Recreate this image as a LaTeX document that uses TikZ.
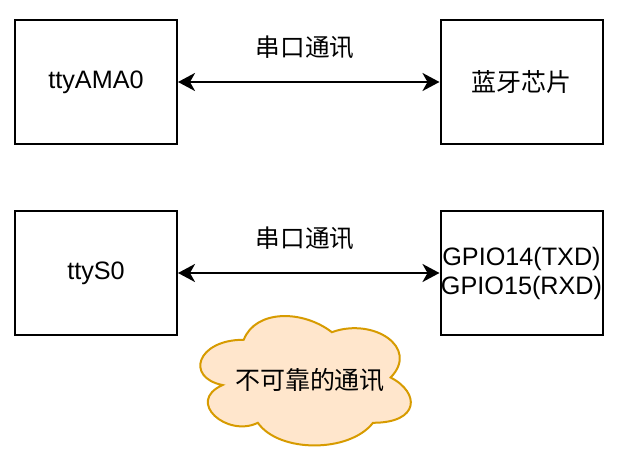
\documentclass[tikz,border=0pt]{standalone}
\usepackage{fontspec}
\setmainfont{Liberation Sans}
\newfontfamily\cjk{Noto Sans CJK SC}
\usepackage{tikz}
\usetikzlibrary{arrows.meta,positioning}
\definecolor{cloudfill}{HTML}{FFE6CC}
\definecolor{cloudline}{HTML}{D79B00}

\begin{document}
\begin{tikzpicture}[
  x=0.5pt, y=-0.5pt,
  box/.style={draw, line width=1pt, minimum width=81pt, minimum height=62pt, inner sep=0pt, align=center, font=\fontsize{12.6}{14.5}\selectfont},
  lbl/.style={font=\cjk\fontsize{12.3}{14}\selectfont, inner sep=1pt},
  link/.style={{Stealth[length=8.5pt,width=9pt,inset=2.5pt]}-{Stealth[length=8.5pt,width=9pt,inset=2.5pt]}, line width=1.2pt},
  puff/.style={draw=cloudline, fill=cloudfill, line width=1pt},
  note/.style={font=\cjk\fontsize{12.5}{14}\selectfont, inner sep=1pt}
]
  \useasboundingbox (0,0) rectangle (623,465);

  % Bluetooth link
  \node[box] (ama) at (96,82) {ttyAMA0};
  \node[box, font=\cjk\fontsize{12.5}{14}\selectfont] (bt) at (521.5,82) {蓝牙芯片};
  \node[lbl] (uart1) at (305,47) {串口通讯};
  \draw[link] (ama) -- (bt);

  % Mini UART link
  \node[box] (tys) at (96,273) {ttyS0};
  \node[box] (gpio) at (521.5,273) {GPIO14(TXD)\\GPIO15(RXD)};
  \node[lbl] (uart2) at (305,238) {串口通讯};
  \draw[link] (tys) -- (gpio);

  % Cloud note
  \begin{scope}[shift={(185,302)}, x=117.5pt, y=-75.5pt]
    \draw[puff] (0.25,0.25)
      .. controls (0.05,0.25) and (0,0.5) .. (0.16,0.55)
      .. controls (0,0.66) and (0.18,0.9) .. (0.31,0.8)
      .. controls (0.4,1) and (0.7,1) .. (0.8,0.8)
      .. controls (1,0.8) and (1,0.6) .. (0.875,0.5)
      .. controls (1,0.3) and (0.8,0.1) .. (0.625,0.2)
      .. controls (0.5,0.05) and (0.3,0.05) .. cycle;
  \end{scope}
  \node[note] (unrel) at (310,380) {不可靠的通讯};
\end{tikzpicture}
\end{document}
